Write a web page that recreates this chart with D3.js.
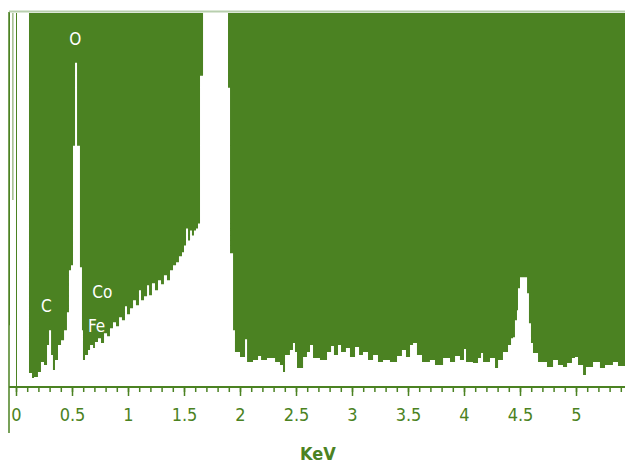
<!DOCTYPE html>
<html>
<head>
<meta charset="utf-8">
<script src="https://cdn.jsdelivr.net/npm/d3@7"></script>
<style>
  html, body { margin: 0; padding: 0; background: #fff; }
  svg { display: block; }
  text { font-family: "DejaVu Sans Condensed", "Liberation Sans", sans-serif; }
</style>
</head>
<body>
<svg width="625" height="463"></svg>
<script>
// EDS spectrum, step breakpoints (energy in KeV, counts)
var energy = [-0.063, -0.054, -0.031, -0.024, 0.116, 0.143, 0.161, 0.196, 0.223, 0.25,
  0.277, 0.295, 0.313, 0.33, 0.348, 0.375, 0.402, 0.429, 0.455, 0.473,
  0.491, 0.509, 0.527, 0.545, 0.571, 0.589, 0.598, 0.616, 0.643, 0.661,
  0.688, 0.705, 0.732, 0.759, 0.786, 0.813, 0.839, 0.866, 0.893, 0.92,
  0.946, 0.973, 0.991, 1.018, 1.045, 1.071, 1.098, 1.116, 1.143, 1.17,
  1.188, 1.214, 1.241, 1.268, 1.295, 1.321, 1.348, 1.375, 1.402, 1.429,
  1.455, 1.482, 1.5, 1.518, 1.536, 1.554, 1.571, 1.589, 1.607, 1.625,
  1.643, 1.67, 1.893, 1.911, 1.938, 1.955, 2.0, 2.045, 2.063, 2.116,
  2.161, 2.188, 2.241, 2.313, 2.357, 2.384, 2.402, 2.446, 2.473, 2.491,
  2.509, 2.563, 2.598, 2.625, 2.652, 2.714, 2.777, 2.813, 2.839, 2.875,
  2.902, 2.946, 2.982, 3.027, 3.063, 3.098, 3.143, 3.188, 3.232, 3.277,
  3.339, 3.402, 3.446, 3.482, 3.518, 3.545, 3.58, 3.625, 3.696, 3.741,
  3.813, 3.875, 3.92, 3.964, 4.0, 4.018, 4.08, 4.125, 4.152, 4.17,
  4.232, 4.277, 4.304, 4.348, 4.393, 4.42, 4.438, 4.455, 4.473, 4.482,
  4.5, 4.563, 4.58, 4.598, 4.616, 4.661, 4.741, 4.795, 4.839, 4.884,
  4.92, 4.964, 4.991, 5.018, 5.063, 5.089, 5.152, 5.214, 5.259, 5.33,
  5.375, 5.45];
var counts = [248, 2000, 750, 2000, 56, 36, 40, 60, 100, 88,
  168, 228, 128, 68, 108, 168, 188, 228, 300, 468,
  488, 968, 1300, 968, 480, 228, 108, 128, 148, 168,
  156, 180, 196, 176, 216, 204, 236, 260, 244, 280,
  268, 324, 292, 316, 348, 328, 388, 348, 364, 408,
  368, 416, 388, 428, 412, 448, 428, 468, 488, 500,
  524, 540, 568, 636, 588, 628, 608, 628, 636, 656,
  1248, 2000, 1200, 536, 228, 140, 120, 192, 100, 108,
  124, 108, 116, 100, 88, 60, 128, 148, 176, 140,
  76, 120, 140, 168, 116, 108, 140, 164, 128, 168,
  140, 156, 120, 160, 128, 140, 108, 128, 100, 108,
  100, 124, 148, 120, 168, 176, 128, 100, 108, 88,
  116, 100, 124, 108, 152, 100, 96, 116, 136, 100,
  116, 76, 108, 140, 168, 196, 200, 268, 308, 396,
  440, 376, 256, 176, 136, 100, 80, 108, 88, 80,
  96, 116, 120, 88, 48, 80, 100, 76, 88, 100,
  84, 84];

var majorTicks = [0, 0.5, 1, 1.5, 2, 2.5, 3, 3.5, 4, 4.5, 5];
var minorTicks = d3.range(0, 55).map(d => d / 10);
var peakLabels = [
  {name: 'O', e: 0.53, c: 1370},
  {name: 'C', e: 0.27, c: 300},
  {name: 'Co', e: 0.77, c: 355},
  {name: 'Fe', e: 0.72, c: 220}
];

var green = '#4b8222';
var svg = d3.select('svg');
var plotTop = 13, base = 387, left = 9, right = 625;

var x = d3.scaleLinear().domain([0, 5]).range([16, 576]);
var y = d3.scaleLinear().domain([0, 1500]).range([base, plotTop]).clamp(true);

var points = d3.zip(energy, counts);

svg.append('clipPath').attr('id', 'plot')
    .append('rect')
    .attr('x', left).attr('y', plotTop)
    .attr('width', right - left).attr('height', base - plotTop);

// green fills the space above the spectrum
var area = d3.area()
    .x(d => x(d[0]))
    .y0(plotTop)
    .y1(d => y(d[1]))
    .curve(d3.curveStepAfter);

svg.append('path')
    .datum(points)
    .attr('clip-path', 'url(#plot)')
    .attr('d', area)
    .attr('fill', green);

// frame lines
svg.append('line')
    .attr('x1', left).attr('x2', right)
    .attr('y1', plotTop - 1.5).attr('y2', plotTop - 1.5)
    .attr('stroke', '#b8cfae').attr('stroke-width', 2);

svg.append('line')
    .attr('x1', left).attr('x2', left)
    .attr('y1', plotTop - 1).attr('y2', 433)
    .attr('stroke', green).attr('stroke-width', 1.5);

svg.append('line')
    .attr('x1', x(0) + 0.5).attr('x2', x(0) + 0.5)
    .attr('y1', plotTop).attr('y2', base)
    .attr('stroke', green).attr('stroke-width', 1);

// x axis: minor and major ticks
var minorAxis = d3.axisBottom(x)
    .tickValues(minorTicks)
    .tickSize(5)
    .tickFormat('');

var majorAxis = d3.axisBottom(x)
    .tickValues(majorTicks)
    .tickSize(9)
    .tickPadding(12)
    .tickFormat(d => String(d));

var gMinor = svg.append('g')
    .attr('transform', 'translate(0,' + base + ')')
    .call(minorAxis);
var gMajor = svg.append('g')
    .attr('transform', 'translate(0,' + base + ')')
    .call(majorAxis);

[gMinor, gMajor].forEach(g => {
    g.select('.domain').remove();
    g.selectAll('line').attr('stroke', green).attr('stroke-width', 1.5);
});
gMajor.selectAll('text')
    .attr('fill', green)
    .style('font-size', '18px');

svg.append('line')
    .attr('x1', left).attr('x2', right)
    .attr('y1', base).attr('y2', base)
    .attr('stroke', green).attr('stroke-width', 2);

svg.append('text')
    .attr('x', 318).attr('y', 460)
    .attr('text-anchor', 'middle')
    .attr('fill', green)
    .style('font-size', '18px')
    .style('font-weight', 'bold')
    .text('KeV');

// element labels in white on the green
svg.selectAll('.peak')
    .data(peakLabels)
    .enter().append('text')
    .attr('class', 'peak')
    .attr('x', d => x(d.e))
    .attr('y', d => y(d.c))
    .attr('text-anchor', 'middle')
    .attr('fill', '#fff')
    .style('font-size', '17px')
    .text(d => d.name);
</script>
</body>
</html>
